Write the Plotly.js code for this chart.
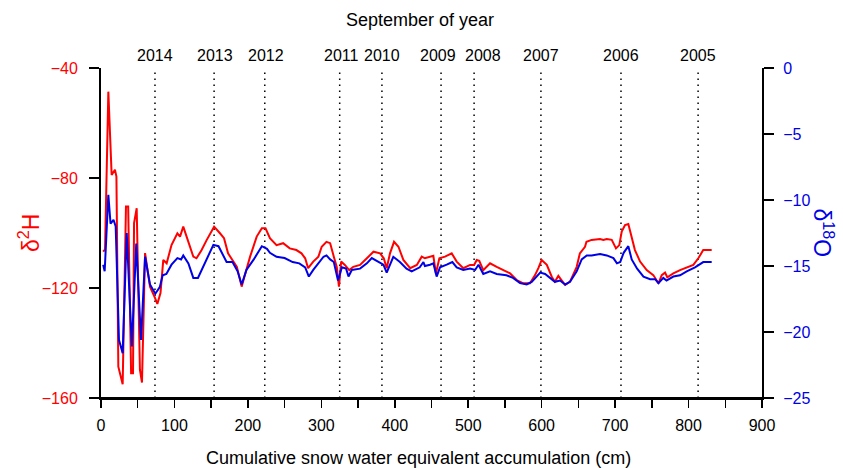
<!DOCTYPE html>
<html>
<head>
<meta charset="utf-8">
<script src="https://cdn.plot.ly/plotly-3.0.1.min.js"></script>
<style>html,body{margin:0;padding:0;background:#fff;}#chart{width:843px;height:468px;}</style>
</head>
<body>
<div id="chart"></div>
<script>
// Cumulative snow water equivalent accumulation (cm) and delta 2H (permil)
const xH = [3,5.5,10,14.5,19,21,23.6,29.5,34,37,41,43.6,45,48.6,53,55.8,60,66.7,73.5,76.7,81,84.8,89.4,96,104,107.6,112,119,125.7,130,137,144,154,162,167.5,173,185,191.5,196,203,212,219,224,230,239,248,257,266,273,278,282,289,296,300.5,307,312,317,321,324,327,332,338,343.5,352.7,362,371,380,385,389,393.5,399,405,411.7,421,430,436.7,441,448,452.5,456,460.7,468.4,477.5,484.3,493.3,502.5,508,511.6,515,520.5,529.7,538.8,547.8,557,566,575,584,591,595.5,600,607,613.7,618,622.7,627,632,638.6,647.7,652,659,661,668,679.5,684,688.6,695.4,701.2,705.7,709,713.5,718,722.6,727,734,743,752,759,763.5,768,771,779.3,788.4,797.5,806.5,813.3,820,831.5];
const dH = [-106.8,-106,-48.6,-78.9,-77,-79.5,-148.6,-155,-90.4,-90.4,-151,-151,-96.4,-91,-149.8,-154.4,-107.3,-119.5,-123.6,-125.8,-121.8,-109.8,-111,-104.4,-100.1,-101.3,-97.7,-103.7,-108.6,-109.2,-106.2,-102.5,-97.7,-100.1,-101.9,-107.4,-112.3,-119.5,-115.3,-108.6,-101.3,-98.3,-98.3,-101.9,-104.4,-103.7,-105.6,-106.2,-107.4,-109.2,-112.8,-110.4,-108.6,-105,-103.2,-103.7,-108.6,-112.3,-119.5,-110.4,-111.6,-113.5,-112.3,-111.6,-109.2,-106.8,-107.4,-109.2,-112.8,-107.4,-103.2,-105,-109.8,-112.8,-111.6,-108.6,-109.2,-108.6,-108.3,-114.7,-109.2,-108.6,-107.4,-110.4,-112.8,-111.6,-111.6,-109.8,-110.1,-113.5,-111,-112.3,-113.5,-114.7,-117.1,-118.3,-118.3,-115.3,-112.8,-109.8,-111.6,-115.9,-117.7,-115.6,-117.1,-118.9,-117.7,-112.3,-107.4,-105,-103.2,-102.5,-102.2,-102.5,-102.2,-102.5,-105.6,-104.4,-99.5,-97.1,-96.7,-101.3,-106.2,-110.4,-113.5,-115.3,-118.3,-115.3,-114.4,-116.1,-114.7,-113.5,-112.5,-111.6,-109.2,-106.2,-106.2];

// delta 18O (permil)
const xO = [3,5,10,13,17,20,24.5,29.5,35,42,48,54.5,60,66.7,74,80,84,89,96,104,109,112,119,125.7,132,139,153,160,165,171,179,186,191.5,198,208,219,226,230,239,250,261,270,278,283,289,296,303,307,312,317,322.7,328,333.7,337,341.5,352.7,362,368.7,378,384.5,389,398,407,416,423,434,439,441,448,452.5,457,461.6,470.7,478.4,484.3,493.3,502.5,509.4,514,520.5,529.7,538.8,552,561,570.6,579.6,586.4,591,598,604.7,611.6,618,625,632,638.6,647.7,654.5,661.4,668,679.5,688.6,697.7,702.5,707,711.6,718,722.6,730,738.6,747.7,754.5,759,765.6,770,779.3,788.4,797.5,808.8,820,831.5];
const dO = [-14.9,-15.4,-9.6,-11.8,-11.5,-12.0,-20.6,-21.6,-12.5,-21.1,-13.3,-20.6,-14.3,-16.4,-17.1,-16.6,-15.7,-15.6,-14.9,-14.4,-14.5,-14.2,-14.8,-15.9,-15.9,-15.1,-13.4,-13.5,-14.0,-14.7,-14.7,-15.4,-16.4,-15.3,-14.5,-13.5,-13.7,-14.0,-14.3,-14.4,-14.7,-14.8,-15.1,-15.8,-15.3,-14.8,-14.3,-14.2,-14.5,-14.7,-16.1,-15.1,-15.2,-15.8,-15.3,-15.2,-14.8,-14.4,-14.7,-14.9,-15.5,-14.3,-14.7,-15.2,-15.4,-15.1,-14.7,-15.0,-14.9,-14.8,-15.8,-15.1,-14.9,-14.7,-15.1,-15.3,-15.2,-15.3,-14.9,-15.6,-15.4,-15.6,-15.7,-15.9,-16.3,-16.4,-16.2,-15.9,-15.5,-15.6,-15.9,-16.2,-16.1,-16.4,-16.2,-15.4,-14.5,-14.2,-14.2,-14.1,-14.2,-14.4,-14.8,-14.7,-14.0,-13.5,-14.5,-15.2,-15.8,-16.0,-16.0,-16.3,-15.9,-16.1,-15.8,-15.7,-15.4,-15.1,-14.7,-14.7];

// September of year markers (line positions and label positions, cm)
const years = ["2014","2013","2012","2011","2010","2009","2008","2007","2006","2005"];
const yearPos = [73.5,154,223,325,382.5,463,508,599,708,813];
const yearLabelPos = [74,155,224,327,382,459,520,599,708,813];

const FONT = "Liberation Sans, Arial, sans-serif";
const RED = "#ff0000";
const BLUE = "#0000e6";

const traces = [
  {x: xO, y: dO, type: "scatter", mode: "lines", yaxis: "y2",
   line: {color: BLUE, width: 2}, hoverinfo: "skip"},
  {x: xH, y: dH, type: "scatter", mode: "lines", yaxis: "y",
   line: {color: RED, width: 2}, hoverinfo: "skip"}
];

const shapes = yearPos.map(p => ({
  type: "line", xref: "x", yref: "paper", x0: p, x1: p, y0: 0, y1: 1,
  line: {color: "#000", width: 1.5, dash: "1.5px,4.5px"}, layer: "below"
}));
// x-axis line extends slightly beyond the plot area
shapes.push({type: "line", xref: "paper", yref: "paper", x0: -0.016, x1: 1.016, y0: 0, y1: 0,
  line: {color: "#000", width: 2}});

const annotations = years.map((t, i) => ({
  text: t, xref: "x", yref: "paper", x: yearLabelPos[i], y: 1,
  xanchor: "center", yanchor: "bottom", yshift: 2, showarrow: false,
  font: {family: FONT, size: 16, color: "#000"}
}));
annotations.push({
  text: "September of year", xref: "paper", yref: "paper", x: 0.4826, y: 1.1455,
  xanchor: "center", yanchor: "middle", showarrow: false,
  font: {family: FONT, size: 18, color: "#000"}
});
annotations.push({
  text: "Cumulative snow water equivalent accumulation (cm)", xref: "paper", yref: "paper",
  x: 0.48, y: -0.182, xanchor: "center", yanchor: "middle", showarrow: false,
  font: {family: FONT, size: 18, color: "#000"}
});
annotations.push({
  text: "δ<sup>2</sup>H", xref: "paper", yref: "paper", x: -0.109, y: 0.5,
  xanchor: "center", yanchor: "middle", textangle: -90, showarrow: false,
  font: {family: FONT, size: 23, color: RED}
});
annotations.push({
  text: "δ<sup>18</sup>O", xref: "paper", yref: "paper", x: 1.093, y: 0.5,
  xanchor: "center", yanchor: "middle", textangle: 90, showarrow: false,
  font: {family: FONT, size: 23, color: BLUE}
});

const layout = {
  width: 843, height: 468,
  margin: {l: 101, r: 81, t: 68, b: 70, pad: 0},
  paper_bgcolor: "#fff", plot_bgcolor: "#fff",
  showlegend: false,
  font: {family: FONT, size: 16, color: "#000"},
  xaxis: {
    range: [0, 900], tickmode: "linear", tick0: 0, dtick: 100,
    ticks: "outside", ticklen: 8, tickwidth: 1.5, tickcolor: "#000",
    minor: {dtick: 50, ticks: "outside", ticklen: 8, tickwidth: 1.5, tickcolor: "#000"},
    showline: true, linecolor: "#000", linewidth: 2,
    showgrid: false, zeroline: false,
    tickfont: {family: FONT, size: 16, color: "#000"},
    ticklabelstandoff: 4
  },
  yaxis: {
    range: [-160, -40], tickmode: "linear", tick0: -160, dtick: 40,
    ticks: "outside", ticklen: 10, tickwidth: 1.5, tickcolor: "#000",
    showline: true, linecolor: "#000", linewidth: 2,
    showgrid: false, zeroline: false,
    tickfont: {family: FONT, size: 16, color: RED},
    ticklabelstandoff: 8
  },
  yaxis2: {
    range: [-25, 0], tickmode: "linear", tick0: -25, dtick: 5,
    overlaying: "y", side: "right",
    ticks: "outside", ticklen: 10, tickwidth: 1.5, tickcolor: "#000",
    showline: true, linecolor: "#000", linewidth: 2,
    showgrid: false, zeroline: false,
    tickfont: {family: FONT, size: 16, color: BLUE},
    ticklabelstandoff: 6
  },
  shapes: shapes,
  annotations: annotations
};

Plotly.newPlot("chart", traces, layout, {staticPlot: true, displayModeBar: false});
</script>
</body>
</html>
